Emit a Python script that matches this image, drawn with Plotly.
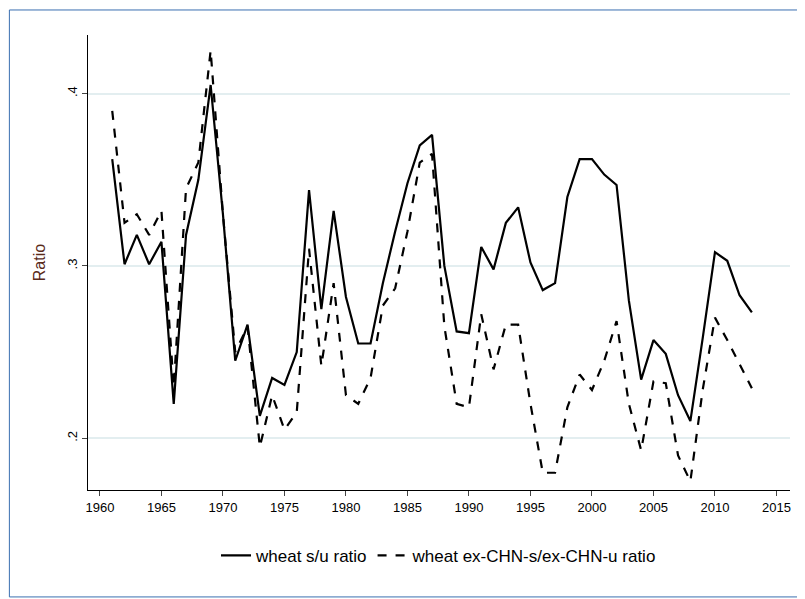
import plotly.graph_objects as go

years = list(range(1961, 2014))
wheat_su = [0.362, 0.301, 0.318, 0.301, 0.314, 0.220, 0.318, 0.350, 0.405, 0.330,
            0.245, 0.266, 0.213, 0.235, 0.231, 0.250, 0.344, 0.275, 0.332, 0.282,
            0.255, 0.255, 0.290, 0.320, 0.348, 0.370, 0.376, 0.300, 0.262, 0.261,
            0.311, 0.298, 0.325, 0.334, 0.302, 0.286, 0.290, 0.340, 0.362, 0.362,
            0.353, 0.347, 0.280, 0.234, 0.257, 0.249, 0.225, 0.210, 0.258, 0.308,
            0.303, 0.283, 0.273]
wheat_ex_chn = [0.390, 0.325, 0.330, 0.318, 0.332, 0.230, 0.345, 0.360, 0.425, 0.330,
                0.250, 0.265, 0.195, 0.225, 0.205, 0.215, 0.310, 0.242, 0.290, 0.225,
                0.220, 0.235, 0.277, 0.287, 0.320, 0.360, 0.365, 0.265, 0.220, 0.218,
                0.272, 0.240, 0.266, 0.266, 0.220, 0.180, 0.180, 0.218, 0.237, 0.228,
                0.245, 0.268, 0.220, 0.193, 0.233, 0.232, 0.190, 0.175, 0.228, 0.270,
                0.257, 0.243, 0.229]
x_ticks = [1960, 1965, 1970, 1975, 1980, 1985, 1990, 1995, 2000, 2005, 2010, 2015]
y_ticks = [0.2, 0.3, 0.4]
y_labels = [".2", ".3", ".4"]

fig = go.Figure()
fig.add_trace(go.Scatter(x=years, y=wheat_su, mode="lines", name="wheat s/u ratio",
                         line=dict(color="black", width=2.2)))
fig.add_trace(go.Scatter(x=years, y=wheat_ex_chn, mode="lines",
                         name="wheat ex-CHN-s/ex-CHN-u ratio",
                         line=dict(color="black", width=2.2, dash="dash")))

# page body has an 8px margin, so margins are offset accordingly
fig.update_layout(
    width=805, height=599,
    margin=dict(l=80, r=23, t=27, b=117, autoexpand=False),
    paper_bgcolor="white", plot_bgcolor="white",
    font=dict(family="Liberation Sans, Arial", size=13, color="black"),
    showlegend=True,
    legend=dict(orientation="h", x=0.5, xanchor="center", y=-0.105, yanchor="top",
                font=dict(size=17)),
    xaxis=dict(range=[1959.03, 2016.1], tickvals=x_ticks, showgrid=False,
               showline=True, linecolor="black", ticks="outside", ticklen=5,
               zeroline=False),
    yaxis=dict(range=[0.170, 0.434], tickvals=y_ticks, ticktext=y_labels,
               tickangle=-90, showgrid=True, gridcolor="#e3eef0", gridwidth=1.5,
               showline=True, linecolor="black", ticks="outside", ticklen=5,
               zeroline=False, title=dict(text="Ratio", font=dict(size=16, color="#5a2a1a"))),
    shapes=[dict(type="rect", xref="paper", yref="paper", x0=-0.112, x1=1.0185,
                 y0=-0.235, y1=1.055, line=dict(color="#3a6fb0", width=1))],
)

fig.write_html("out.html")
